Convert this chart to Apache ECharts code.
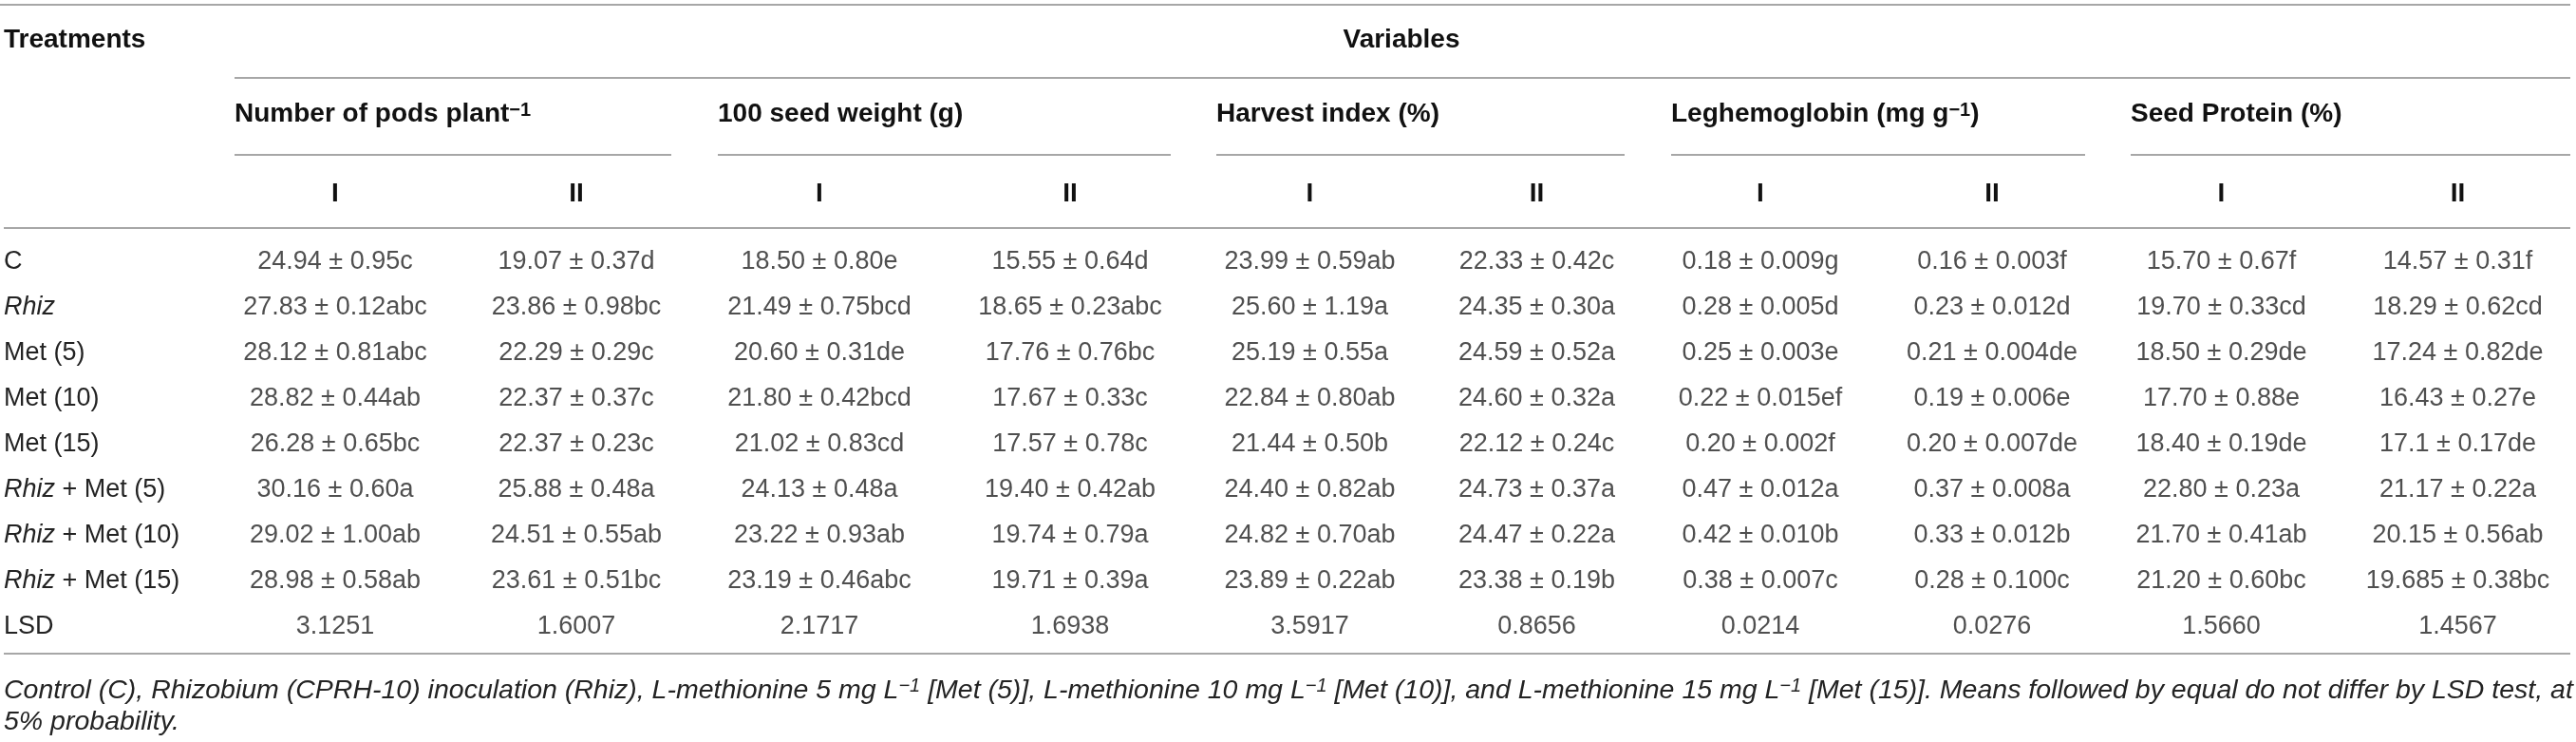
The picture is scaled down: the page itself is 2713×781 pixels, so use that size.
<!DOCTYPE html>
<html>
<head>
<meta charset="utf-8">
<script src="https://cdn.jsdelivr.net/npm/echarts@6/dist/echarts.min.js"></script>
<style>
  html, body { margin: 0; padding: 0; background: #fff; }
  #chart { width: 2713px; height: 781px; }
</style>
</head>
<body>
<div id="chart"></div>
<script>
// ---------- data ----------
const treatments = ['C', 'Rhiz', 'Met (5)', 'Met (10)', 'Met (15)', 'Rhiz + Met (5)', 'Rhiz + Met (10)', 'Rhiz + Met (15)', 'LSD'];
const seasons = ['I', 'II'];
const groupNames = ['Number of pods plant{s|−1}', '100 seed weight (g)', 'Harvest index (%)', 'Leghemoglobin (mg g{s|−1})', 'Seed Protein (%)'];

const podsI   = ['24.94 ± 0.95c', '27.83 ± 0.12abc', '28.12 ± 0.81abc', '28.82 ± 0.44ab', '26.28 ± 0.65bc', '30.16 ± 0.60a', '29.02 ± 1.00ab', '28.98 ± 0.58ab', '3.1251'];
const podsII  = ['19.07 ± 0.37d', '23.86 ± 0.98bc', '22.29 ± 0.29c', '22.37 ± 0.37c', '22.37 ± 0.23c', '25.88 ± 0.48a', '24.51 ± 0.55ab', '23.61 ± 0.51bc', '1.6007'];
const seedI   = ['18.50 ± 0.80e', '21.49 ± 0.75bcd', '20.60 ± 0.31de', '21.80 ± 0.42bcd', '21.02 ± 0.83cd', '24.13 ± 0.48a', '23.22 ± 0.93ab', '23.19 ± 0.46abc', '2.1717'];
const seedII  = ['15.55 ± 0.64d', '18.65 ± 0.23abc', '17.76 ± 0.76bc', '17.67 ± 0.33c', '17.57 ± 0.78c', '19.40 ± 0.42ab', '19.74 ± 0.79a', '19.71 ± 0.39a', '1.6938'];
const harvI   = ['23.99 ± 0.59ab', '25.60 ± 1.19a', '25.19 ± 0.55a', '22.84 ± 0.80ab', '21.44 ± 0.50b', '24.40 ± 0.82ab', '24.82 ± 0.70ab', '23.89 ± 0.22ab', '3.5917'];
const harvII  = ['22.33 ± 0.42c', '24.35 ± 0.30a', '24.59 ± 0.52a', '24.60 ± 0.32a', '22.12 ± 0.24c', '24.73 ± 0.37a', '24.47 ± 0.22a', '23.38 ± 0.19b', '0.8656'];
const legI    = ['0.18 ± 0.009g', '0.28 ± 0.005d', '0.25 ± 0.003e', '0.22 ± 0.015ef', '0.20 ± 0.002f', '0.47 ± 0.012a', '0.42 ± 0.010b', '0.38 ± 0.007c', '0.0214'];
const legII   = ['0.16 ± 0.003f', '0.23 ± 0.012d', '0.21 ± 0.004de', '0.19 ± 0.006e', '0.20 ± 0.007de', '0.37 ± 0.008a', '0.33 ± 0.012b', '0.28 ± 0.100c', '0.0276'];
const protI   = ['15.70 ± 0.67f', '19.70 ± 0.33cd', '18.50 ± 0.29de', '17.70 ± 0.88e', '18.40 ± 0.19de', '22.80 ± 0.23a', '21.70 ± 0.41ab', '21.20 ± 0.60bc', '1.5660'];
const protII  = ['14.57 ± 0.31f', '18.29 ± 0.62cd', '17.24 ± 0.82de', '16.43 ± 0.27e', '17.1 ± 0.17de', '21.17 ± 0.22a', '20.15 ± 0.56ab', '19.685 ± 0.38bc', '1.4567'];

const footnote1 = 'Control (C), Rhizobium (CPRH-10) inoculation (Rhiz), L-methionine 5 mg L{s|−1} [Met (5)], L-methionine 10 mg L{s|−1} [Met (10)], and L-methionine 15 mg L{s|−1} [Met (15)]. Means followed by equal do not differ by LSD test, at';
const footnote2 = '5% probability.';

// ---------- layout / style ----------
const columns = [[podsI, podsII], [seedI, seedII], [harvI, harvII], [legI, legII], [protI, protII]];
const gridLeft  = [226, 731, 1260, 1732, 2215];
const gridWidth = [508, 528, 478, 488, 510];
const groupLine = [[247, 707], [756, 1233], [1281, 1711], [1760, 2196], [2244, 2707]];
const GRID_TOP = 252, GRID_H = 431;
const FONT = '"Liberation Sans", Arial, Helvetica, sans-serif';
const TXT = '#232323', HEAD = '#111', RULE = '#8a8a8a';
const supStyle = { fontSize: 20, verticalAlign: 'top', lineHeight: 20, fontFamily: FONT };

const grids = [], xAxes = [], yAxes = [], series = [];
columns.forEach((cols, g) => {
  grids.push({ left: gridLeft[g], width: gridWidth[g], top: GRID_TOP, height: GRID_H, containLabel: false });
  xAxes.push({
    type: 'category', gridIndex: g, data: seasons, position: 'top',
    axisLine: { show: false }, axisTick: { show: false }, splitLine: { show: false },
    axisLabel: { margin: 48, verticalAlign: 'middle', fontSize: 28, fontWeight: 'bold', color: HEAD, fontFamily: FONT }
  });
  yAxes.push({
    type: 'category', gridIndex: g, data: treatments, inverse: true,
    axisLine: { show: false }, axisTick: { show: false }, splitLine: { show: false },
    axisLabel: g === 0 ? {
      show: true, align: 'left', margin: gridLeft[0] - 4, fontSize: 27, color: TXT, fontFamily: FONT,
      formatter: v => v.replace('Rhiz', '{i|Rhiz}'),
      rich: { i: { fontStyle: 'italic', fontSize: 27, color: TXT, fontFamily: FONT } }
    } : { show: false }
  });
  cols.forEach((arr, c) => {
    series.push({
      type: 'scatter', xAxisIndex: g, yAxisIndex: g, symbolSize: 0, silent: true,
      data: arr.map((t, i) => ({ value: [seasons[c], treatments[i]], name: t })),
      label: { show: true, position: 'inside', formatter: '{b}', fontSize: 27, color: TXT, fontFamily: FONT }
    });
  });
});

function hline(y, x1, x2) {
  return { type: 'line', shape: { x1, y1: y, x2, y2: y }, style: { stroke: RULE, lineWidth: 1.5 }, silent: true };
}
function txt(x, y, text, opts) {
  return { type: 'text', x, y, silent: true, style: Object.assign({
    text, fontSize: 28, fontWeight: 'bold', fill: HEAD, fontFamily: FONT, verticalAlign: 'middle', align: 'left',
    rich: { s: Object.assign({}, supStyle, { fontWeight: opts && opts.fontWeight || 'bold' }) }
  }, opts || {}) };
}

const graphics = [
  hline(5, 0, 2707),
  hline(82, 247, 2707),
  hline(240, 4, 2707),
  hline(688, 4, 2707),
  txt(4, 42, 'Treatments'),
  txt(1476, 42, 'Variables', { align: 'center' })
];
groupLine.forEach((l, g) => {
  graphics.push(hline(163, l[0], l[1]));
  graphics.push(txt(l[0], 120, groupNames[g]));
});
const footStyle = { fontSize: 28.5, fontWeight: 'normal', fontStyle: 'italic', fill: TXT };
graphics.push(txt(4, 727, footnote1, Object.assign({}, footStyle, {
  rich: { s: Object.assign({}, supStyle, { fontSize: 20, fontStyle: 'italic', fill: TXT, color: TXT }) }
})));
graphics.push(txt(4, 760, footnote2, footStyle));

const chart = echarts.init(document.getElementById('chart'), null, { renderer: 'canvas' });
chart.setOption({
  animation: false,
  backgroundColor: '#ffffff',
  grid: grids, xAxis: xAxes, yAxis: yAxes, series,
  graphic: { elements: graphics }
});
</script>
</body>
</html>
